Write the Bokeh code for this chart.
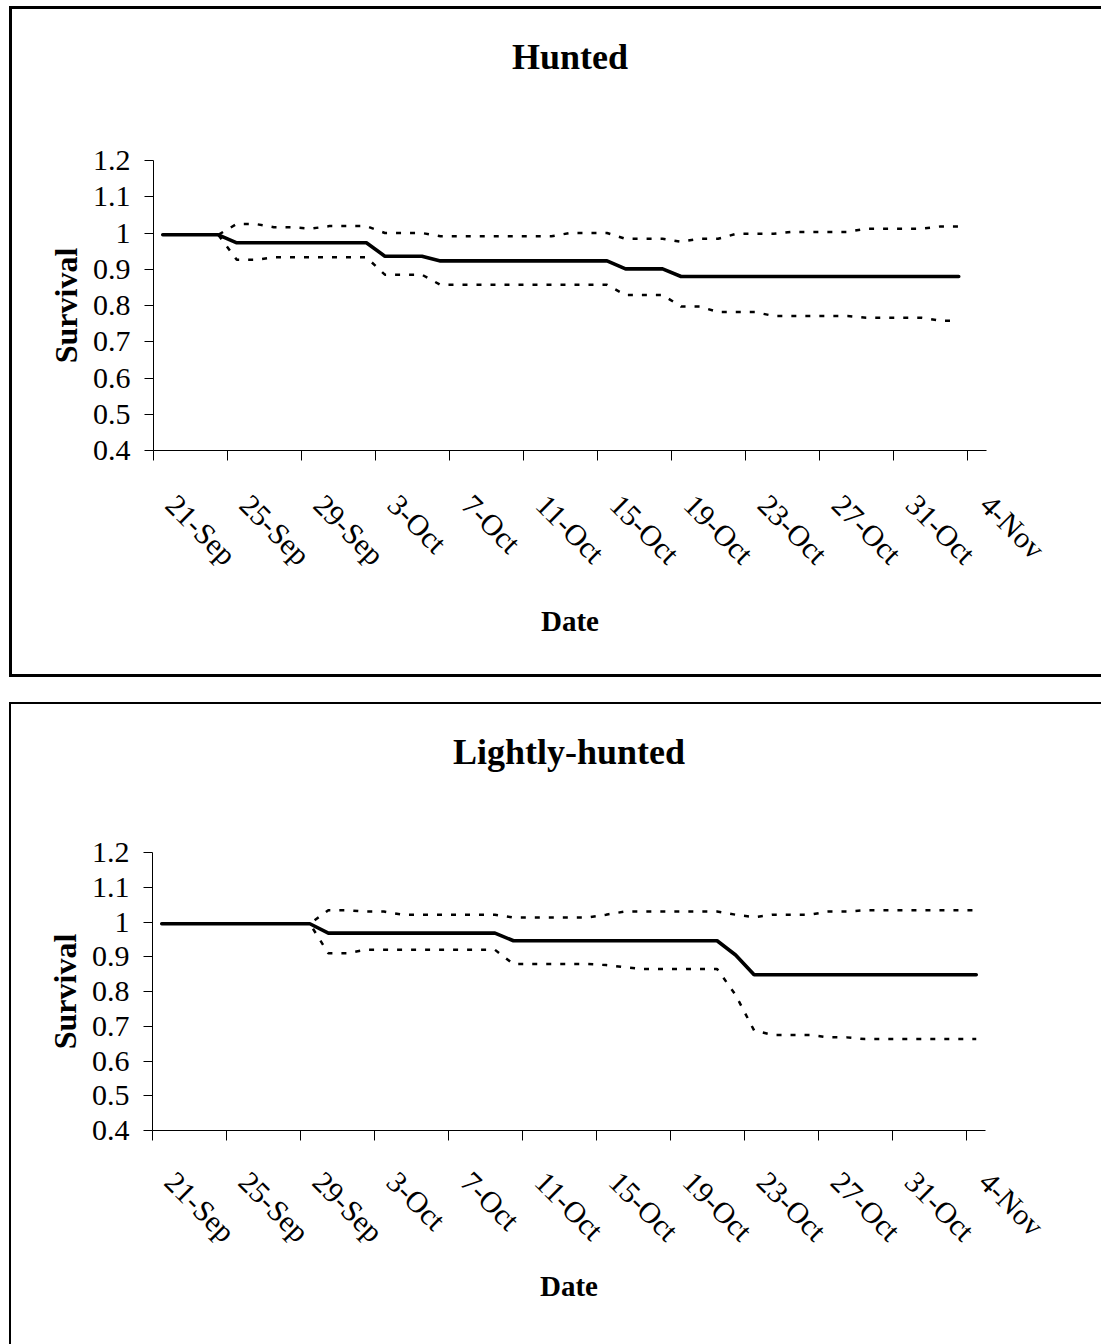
import math
from bokeh.plotting import figure
from bokeh.layouts import column
from bokeh.models import Range1d, FixedTicker, ColumnDataSource, LinearAxis
from bokeh.embed import file_html
from bokeh.resources import INLINE

# ---------------- data ----------------
tick_labels = ["21-Sep", "25-Sep", "29-Sep", "3-Oct", "7-Oct", "11-Oct",
               "15-Oct", "19-Oct", "23-Oct", "27-Oct", "31-Oct", "4-Nov"]
y_tick_values = [0.4, 0.5, 0.6, 0.7, 0.8, 0.9, 1.0, 1.1, 1.2]
y_tick_labels = ["0.4", "0.5", "0.6", "0.7", "0.8", "0.9", "1", "1.1", "1.2"]

# Hunted: daily values, 21-Sep .. 2-Nov
hunted_surv = [0.995, 0.995, 0.995, 0.995,
               0.973, 0.973, 0.973, 0.973, 0.973, 0.973, 0.973, 0.973,
               0.936, 0.936, 0.936,
               0.923, 0.923, 0.923, 0.923, 0.923, 0.923, 0.923, 0.923, 0.923, 0.923,
               0.901, 0.901, 0.901,
               0.880, 0.880, 0.880, 0.880, 0.880, 0.880, 0.880, 0.880,
               0.880, 0.880, 0.880, 0.880, 0.880, 0.880, 0.880, 0.880]
hunted_upper = [0.995, 0.995, 0.995, 0.995,
                1.025, 1.025, 1.016, 1.016, 1.012,
                1.019, 1.019, 1.019,
                1.000, 1.000, 1.000,
                0.991, 0.991, 0.991, 0.991, 0.991, 0.991, 0.991,
                1.000, 1.000, 1.000,
                0.984, 0.984, 0.984, 0.976, 0.984, 0.984,
                0.998, 0.998, 0.998,
                1.003, 1.003, 1.003, 1.003,
                1.012, 1.012, 1.012, 1.012,
                1.018, 1.018]
hunted_lower = [0.995, 0.995, 0.995, 0.995,
                0.926, 0.926,
                0.933, 0.933, 0.933, 0.933, 0.933, 0.933,
                0.885, 0.885, 0.885,
                0.857, 0.857, 0.857, 0.857, 0.857, 0.857, 0.857, 0.857, 0.857, 0.857,
                0.829, 0.829, 0.829,
                0.797, 0.797,
                0.782, 0.782, 0.782,
                0.771, 0.771, 0.771, 0.771, 0.771,
                0.766, 0.766, 0.766, 0.766,
                0.758, 0.758]

# Lightly-hunted: daily values, 21-Sep .. 4-Nov
light_surv = [0.995, 0.995, 0.995, 0.995, 0.995, 0.995, 0.995, 0.995, 0.995,
              0.968, 0.968, 0.968, 0.968, 0.968, 0.968, 0.968, 0.968, 0.968, 0.968,
              0.946, 0.946, 0.946, 0.946, 0.946, 0.946, 0.946, 0.946, 0.946, 0.946, 0.946, 0.946,
              0.905,
              0.848, 0.848, 0.848, 0.848, 0.848, 0.848, 0.848, 0.848, 0.848, 0.848, 0.848, 0.848, 0.848]
light_upper = [0.995, 0.995, 0.995, 0.995, 0.995, 0.995, 0.995, 0.995, 0.995,
               1.034, 1.034, 1.030, 1.030,
               1.021, 1.021, 1.021, 1.021, 1.021, 1.021,
               1.013, 1.013, 1.013, 1.013, 1.013,
               1.021,
               1.030, 1.030, 1.030, 1.030, 1.030, 1.030,
               1.021, 1.014,
               1.021, 1.021, 1.021,
               1.030, 1.030,
               1.034, 1.034, 1.034, 1.034, 1.034, 1.034, 1.034]
light_lower = [0.995, 0.995, 0.995, 0.995, 0.995, 0.995, 0.995, 0.995, 0.995,
               0.910, 0.910,
               0.920, 0.920, 0.920, 0.920, 0.920, 0.920, 0.920, 0.920,
               0.879, 0.879, 0.879, 0.879, 0.879,
               0.876, 0.870,
               0.865, 0.865, 0.865, 0.865, 0.865,
               0.790, 0.688,
               0.675, 0.675, 0.675,
               0.668, 0.668,
               0.663, 0.663, 0.663, 0.663, 0.663, 0.663, 0.663]

FONT = "Liberation Serif"


def make_fig(title, surv, upper, lower, height, left_b, right_b, top_b, bottom_b,
             title_gap, lab_standoff, axlab_standoff, border, bottom_border):
    days = list(range(len(surv)))
    src = ColumnDataSource(dict(day=days, surv=surv, upper=upper, lower=lower))
    p = figure(width=1092, height=height, title=None,
               x_range=Range1d(-0.5, 44.5), y_range=Range1d(0.4, 1.2),
               output_backend="svg", toolbar_location=None,
               min_border_left=left_b, min_border_right=right_b,
               min_border_top=top_b, min_border_bottom=bottom_b)

    # chart title, set well above the plotting area
    head = LinearAxis(ticker=FixedTicker(ticks=[]), axis_line_color=None,
                      major_tick_line_color=None, minor_tick_line_color=None,
                      major_tick_out=0, major_tick_in=0,
                      minor_tick_out=0, minor_tick_in=0,
                      axis_label=title, axis_label_standoff=title_gap,
                      axis_label_text_font=FONT, axis_label_text_font_size="36px",
                      axis_label_text_font_style="bold", axis_label_text_color="black")
    p.add_layout(head, "above")

    p.line("day", "upper", source=src, line_color="black", line_width=2.5, line_dash="5 9")
    p.line("day", "lower", source=src, line_color="black", line_width=2.5, line_dash="5 9")
    p.line("day", "surv", source=src, line_color="black", line_width=3.6, line_cap="round")

    p.grid.visible = False
    p.outline_line_color = None
    p.background_fill_color = "white"
    p.border_fill_color = "white"

    tick_days = [4 * i for i in range(len(tick_labels))]
    label_pos = [t + 0.45 for t in tick_days]
    xa = p.below[0]
    xa.ticker = FixedTicker(ticks=label_pos, minor_ticks=[t - 0.5 for t in tick_days])
    xa.major_label_overrides = {t: lab for t, lab in zip(label_pos, tick_labels)}
    xa.major_label_orientation = -math.pi / 4
    xa.major_tick_out = 0
    xa.major_tick_in = 0
    xa.minor_tick_out = 10
    xa.minor_tick_in = 0
    xa.minor_tick_line_color = "black"
    xa.axis_line_color = "black"
    xa.major_label_standoff = lab_standoff
    xa.major_label_text_font = FONT
    xa.major_label_text_font_size = "30px"
    xa.major_label_text_color = "black"
    xa.axis_label = "Date"
    xa.axis_label_text_font = FONT
    xa.axis_label_text_font_size = "29px"
    xa.axis_label_text_font_style = "bold"
    xa.axis_label_text_color = "black"
    xa.axis_label_standoff = axlab_standoff

    ya = p.left[0]
    ya.ticker = FixedTicker(ticks=y_tick_values, minor_ticks=[])
    ya.major_label_overrides = {v: lab for v, lab in zip(y_tick_values, y_tick_labels)}
    ya.major_tick_out = 9
    ya.major_tick_in = 0
    ya.minor_tick_out = 0
    ya.minor_tick_in = 0
    ya.major_tick_line_color = "black"
    ya.axis_line_color = "black"
    ya.major_label_standoff = 14
    ya.major_label_text_font = FONT
    ya.major_label_text_font_size = "30px"
    ya.major_label_text_color = "black"
    ya.axis_label = "Survival"
    ya.axis_label_text_font = FONT
    ya.axis_label_text_font_size = "32px"
    ya.axis_label_text_font_style = "bold"
    ya.axis_label_text_color = "black"
    ya.axis_label_standoff = 6

    st = {"border-left": f"{border}px solid black",
          "border-top": f"{border}px solid black"}
    if bottom_border:
        st["border-bottom"] = f"{border}px solid black"
    p.styles = st
    return p


p1 = make_fig("Hunted", hunted_surv, hunted_upper, hunted_lower,
              671, 140, 118, 151, 230, 84, 39, 19, 3, True)
p2 = make_fig("Lightly-hunted", light_surv, light_upper, light_lower,
              642, 141, 117, 148, 216, 81, 36, 7, 2, False)
p1.margin = (6, 0, 0, 9)
p2.margin = (25, 0, 0, 9)

layout = column(p1, p2, spacing=0)
open("out.html", "w").write(file_html(layout, INLINE))
